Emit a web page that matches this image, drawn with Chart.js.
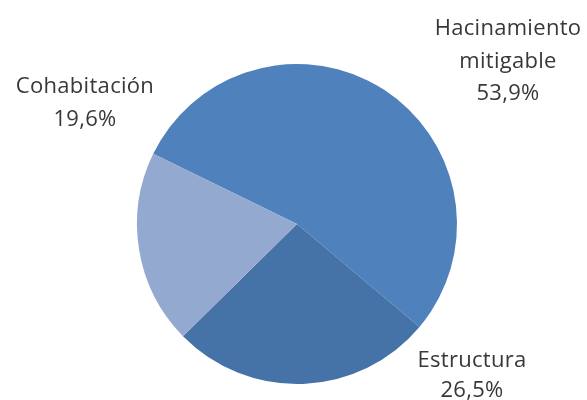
<!DOCTYPE html>
<html>
<head>
<meta charset="utf-8">
<script src="https://cdn.jsdelivr.net/npm/chart.js@4"></script>
<style>
html,body{margin:0;padding:0;background:#fff;}
#wrap{width:587px;height:400px;position:relative;}
</style>
</head>
<body>
<div id="wrap"><canvas id="c" width="587" height="400"></canvas></div>
<script>
const categories = ["Hacinamiento mitigable", "Estructura", "Cohabitación"];
const labelLines = [["Hacinamiento", "mitigable", "53,9%"], ["Estructura", "26,5%"], ["Cohabitación", "19,6%"]];
const values = [53.9, 26.5, 19.6];
const colors = ["#4F81BD", "#4673A7", "#94A9CF"];

const labelPlugin = {
  id: 'outLabels',
  afterDatasetsDraw(chart, args, opts) {
    const ctx = chart.ctx;
    const meta = chart.getDatasetMeta(0);
    ctx.save();
    ctx.font = opts.font;
    ctx.fillStyle = opts.color;
    ctx.textAlign = 'center';
    ctx.textBaseline = 'alphabetic';
    if ('letterSpacing' in ctx) ctx.letterSpacing = opts.letterSpacing;
    meta.data.forEach((arc, i) => {
      const p = opts.positions[i];
      const lines = labelLines[i];
      lines.forEach((t, j) => {
        ctx.fillText(t, arc.x + p[0], arc.y + p[1] + j * opts.lineHeights[i]);
      });
    });
    ctx.restore();
  }
};

new Chart(document.getElementById('c'), {
  type: 'pie',
  data: {
    labels: categories,
    datasets: [{
      data: values,
      backgroundColor: colors,
      borderWidth: 0
    }]
  },
  options: {
    responsive: false,
    animation: false,
    rotation: -64,
    layout: { padding: { left: 137, right: 130, top: 64, bottom: 16 } },
    plugins: {
      legend: { display: false },
      tooltip: { enabled: false },
      outLabels: {
        font: '22px "Open Sans"',
        color: '#383838',
        letterSpacing: '0.3px',
        lineHeights: [32.5, 30, 33],
        positions: [[211, -189], [175, 143], [-212, -131]]
      }
    }
  },
  plugins: [labelPlugin]
});
</script>
</body>
</html>
